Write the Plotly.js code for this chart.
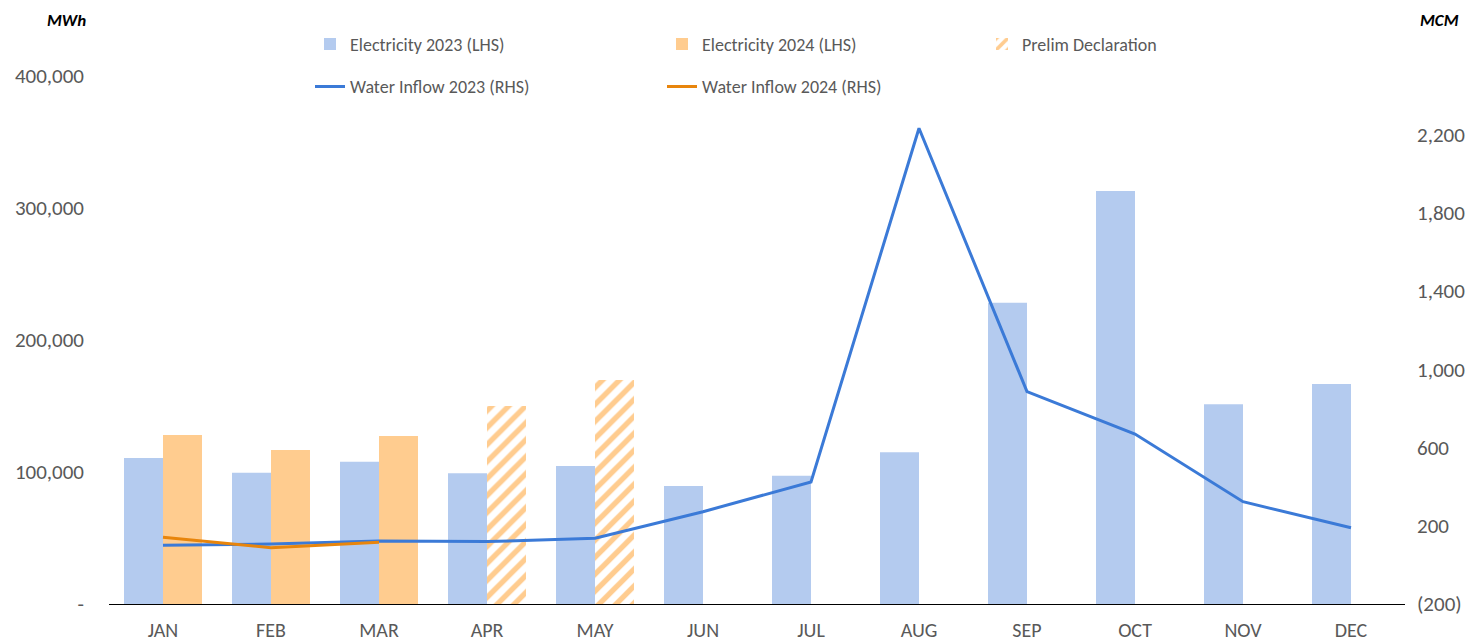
<!DOCTYPE html>
<html>
<head>
<meta charset="utf-8">
<script src="https://cdn.plot.ly/plotly-3.0.1.min.js"></script>
<style>html,body{margin:0;padding:0;background:#fff;}#chart{width:1477px;height:641px;}</style>
</head>
<body>
<div id="chart"></div>
<script>
const months = ["JAN","FEB","MAR","APR","MAY","JUN","JUL","AUG","SEP","OCT","NOV","DEC"];
const elec2023 = [110600, 99500, 107800, 99000, 104500, 89400, 97200, 115000, 228300, 312900, 151300, 166700];
const elec2024 = [128000, 116700, 127300, null, null, null, null, null, null, null, null, null];
const prelim = [null, null, null, 150000, 169700, null, null, null, null, null, null, null];
const water2023 = [100, 107, 122, 119, 136, 272, 424, 2233, 886, 669, 323, 190];
const water2024 = [141, 88, 116];
const leftTickVals = [0, 100000, 200000, 300000, 400000];
const leftTickText = ["-", "100,000", "200,000", "300,000", "400,000"];
const rightTickVals = [-200, 200, 600, 1000, 1400, 1800, 2200];
const rightTickText = ["(200)", "200", "600", "1,000", "1,400", "1,800", "2,200"];

const FONT = "Calibri, Carlito, Lato, sans-serif";
const GREY = "#595959";
const BLUE_BAR = "#B4CBEF";
const ORANGE_BAR = "#FFCC8F";
const BLUE_LINE = "#3B7AD7";
const ORANGE_LINE = "#E8850C";

const traces = [
  {type:"bar", name:"Electricity 2023 (LHS)", x:months, y:elec2023, offsetgroup:"a",
   marker:{color:BLUE_BAR}, legend:"legend", legendgroup:"g1", hoverinfo:"skip"},
  {type:"bar", name:"Electricity 2024 (LHS)", x:months, y:elec2024, offsetgroup:"b",
   marker:{color:ORANGE_BAR}, legend:"legend2", legendgroup:"g2", hoverinfo:"skip"},
  {type:"bar", name:"Prelim Declaration", x:months, y:prelim, offsetgroup:"b",
   marker:{color:"#ffffff", pattern:{shape:"/", fgcolor:ORANGE_BAR, bgcolor:"#ffffff", size:12, solidity:0.45}},
   legend:"legend3", legendgroup:"g3", hoverinfo:"skip"},
  {type:"scatter", mode:"lines", name:"Water Inflow 2023 (RHS)", x:months, y:water2023, yaxis:"y2",
   line:{color:BLUE_LINE, width:3}, legend:"legend", legendgroup:"g4", hoverinfo:"skip"},
  {type:"scatter", mode:"lines", name:"Water Inflow 2024 (RHS)", x:months.slice(0,3), y:water2024, yaxis:"y2",
   line:{color:ORANGE_LINE, width:3}, legend:"legend2", legendgroup:"g5", hoverinfo:"skip"}
];

const legendBase = {orientation:"v", xanchor:"left", yanchor:"top", y:1.095,
  font:{family:FONT, size:18, color:GREY}, bgcolor:"rgba(0,0,0,0)", tracegroupgap:16, traceorder:"grouped"};

const layout = {
  width:1477, height:641,
  margin:{l:109, r:72, t:76, b:37},
  paper_bgcolor:"#ffffff", plot_bgcolor:"#ffffff",
  barmode:"group", bargap:0.278, bargroupgap:0,
  font:{family:FONT, color:GREY},
  showlegend:true,
  legend: Object.assign({}, legendBase, {x:(310-109)/1296}),
  legend2: Object.assign({}, legendBase, {x:(662-109)/1296}),
  legend3: Object.assign({}, legendBase, {x:(982-109)/1296}),
  xaxis:{type:"category", showline:true, linecolor:"#000000", linewidth:1, showgrid:false, zeroline:false,
    ticks:"", tickfont:{family:FONT, size:20, color:GREY}, ticklabelstandoff:8},
  yaxis:{range:[0,400000], tickvals:leftTickVals, ticktext:leftTickText, showgrid:false, zeroline:false,
    showline:false, ticks:"", tickfont:{family:FONT, size:21, color:GREY}, ticklabelstandoff:24},
  yaxis2:{range:[-200,2500], overlaying:"y", side:"right", tickvals:rightTickVals, ticktext:rightTickText,
    showgrid:false, zeroline:false, showline:false, ticks:"", tickfont:{family:FONT, size:21, color:GREY},
    ticklabelstandoff:11},
  annotations:[
    {text:"<b><i>MWh</i></b>", xref:"paper", yref:"paper", x:(66-109)/1296, y:1+(76-21)/528,
     xanchor:"center", yanchor:"middle", showarrow:false, font:{family:FONT, size:17, color:"#000000"}},
    {text:"<b><i>MCM</i></b>", xref:"paper", yref:"paper", x:(1439-109)/1296, y:1+(76-21)/528,
     xanchor:"center", yanchor:"middle", showarrow:false, font:{family:FONT, size:17, color:"#000000"}}
  ]
};

Plotly.newPlot("chart", traces, layout, {displayModeBar:false, staticPlot:true});
</script>
</body>
</html>
